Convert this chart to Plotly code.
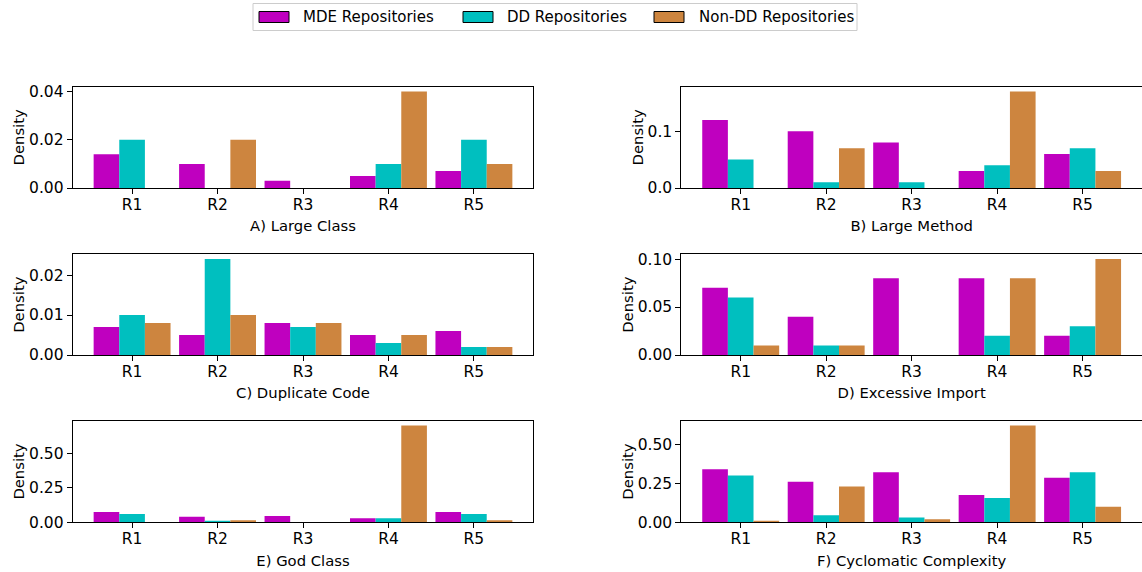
import plotly.graph_objects as go

# Density of each smell type per repository group (R1..R5)
regions = ["R1", "R2", "R3", "R4", "R5"]
series_names = ["MDE Repositories", "DD Repositories", "Non-DD Repositories"]
series_colors = ["#bf00bf", "#00bfbf", "#cd853f"]

large_class_mde = [0.014, 0.010, 0.003, 0.005, 0.007]
large_class_dd = [0.020, 0.0, 0.0, 0.010, 0.020]
large_class_nondd = [0.0, 0.020, 0.0, 0.040, 0.010]

large_method_mde = [0.12, 0.10, 0.08, 0.03, 0.06]
large_method_dd = [0.05, 0.01, 0.01, 0.04, 0.07]
large_method_nondd = [0.0, 0.07, 0.0, 0.17, 0.03]

duplicate_code_mde = [0.007, 0.005, 0.008, 0.005, 0.006]
duplicate_code_dd = [0.010, 0.024, 0.007, 0.003, 0.002]
duplicate_code_nondd = [0.008, 0.010, 0.008, 0.005, 0.002]

excessive_import_mde = [0.07, 0.04, 0.08, 0.08, 0.02]
excessive_import_dd = [0.06, 0.01, 0.0, 0.02, 0.03]
excessive_import_nondd = [0.01, 0.01, 0.0, 0.08, 0.10]

god_class_mde = [0.075, 0.040, 0.045, 0.030, 0.075]
god_class_dd = [0.060, 0.010, 0.0, 0.030, 0.060]
god_class_nondd = [0.0, 0.015, 0.0, 0.700, 0.015]

cyclomatic_mde = [0.34, 0.26, 0.32, 0.175, 0.285]
cyclomatic_dd = [0.30, 0.045, 0.03, 0.155, 0.32]
cyclomatic_nondd = [0.007, 0.23, 0.02, 0.62, 0.10]

panels = [
    ("A) Large Class", [large_class_mde, large_class_dd, large_class_nondd], [0, 0.02, 0.04], ".2f"),
    ("B) Large Method", [large_method_mde, large_method_dd, large_method_nondd], [0, 0.1], ".1f"),
    ("C) Duplicate Code", [duplicate_code_mde, duplicate_code_dd, duplicate_code_nondd], [0, 0.01, 0.02], ".2f"),
    ("D) Excessive Import", [excessive_import_mde, excessive_import_dd, excessive_import_nondd], [0, 0.05, 0.10], ".2f"),
    ("E) God Class", [god_class_mde, god_class_dd, god_class_nondd], [0, 0.25, 0.50], ".2f"),
    ("F) Cyclomatic Complexity", [cyclomatic_mde, cyclomatic_dd, cyclomatic_nondd], [0, 0.25, 0.50], ".2f"),
]

W, H = 1142, 572
FONT = "DejaVu Sans"
col_px = [(72.7, 533.3), (681.3, 1142.0)]
row_px = [(86.7, 188.0), (254.3, 355.0), (420.7, 522.3)]


def px_x(v):
    return v / W


def px_y(v):
    return 1 - v / H


fig = go.Figure()
layout = dict(
    width=W, height=H,
    margin=dict(l=0, r=0, t=0, b=0),
    paper_bgcolor="white", plot_bgcolor="white",
    font=dict(family=FONT, size=15, color="black"),
    barmode="group", bargap=0.1, bargroupgap=0.0,
    showlegend=False,
)

for i, (title, values, ticks, fmt) in enumerate(panels):
    r, c = divmod(i, 2)
    n = i + 1
    xa = "x" if n == 1 else f"x{n}"
    ya = "y" if n == 1 else f"y{n}"
    ymax = max(max(v) for v in values) * 1.05
    for k, v in enumerate(values):
        fig.add_trace(go.Bar(
            x=regions, y=v, name=series_names[k],
            marker=dict(color=series_colors[k], line=dict(width=0)),
            xaxis=xa, yaxis=ya, legendgroup=series_names[k],
        ))
    x0, x1 = col_px[c]
    y0, y1 = row_px[r]
    axis_common = dict(
        showline=True, linecolor="black", linewidth=1, mirror=True,
        ticks="outside", ticklen=5, tickwidth=1, tickcolor="black",
        showgrid=False, zeroline=False, automargin=False,
        tickfont=dict(family=FONT, size=15.5, color="black"),
    )
    layout["xaxis" if n == 1 else f"xaxis{n}"] = dict(
        axis_common,
        domain=[px_x(x0), px_x(x1)], anchor=ya,
        type="category", range=[-0.695, 4.695],
        ticklabelstandoff=-3,
        title=dict(text=title, font=dict(family=FONT, size=14.8), standoff=8),
    )
    layout["yaxis" if n == 1 else f"yaxis{n}"] = dict(
        axis_common,
        domain=[px_y(y1), px_y(y0)], anchor=xa,
        range=[0, ymax], tickvals=ticks, tickformat=fmt,
        title=dict(text="Density", font=dict(family=FONT, size=14.8), standoff=0),
    )

# Legend box across the top: framed row of colour patches with labels
shapes = [dict(
    type="rect", xref="paper", yref="paper",
    x0=px_x(253), x1=px_x(857), y0=px_y(30.5), y1=px_y(3.5),
    line=dict(color="#cccccc", width=1), fillcolor="white", layer="below",
)]
annotations = []
patch_left = [259, 463, 654]
text_left = [301, 505, 697]
for k, name in enumerate(series_names):
    shapes.append(dict(
        type="rect", xref="paper", yref="paper",
        x0=px_x(patch_left[k]), x1=px_x(patch_left[k] + 30),
        y0=px_y(22.5), y1=px_y(11.5),
        line=dict(color="black", width=1), fillcolor=series_colors[k],
    ))
    annotations.append(dict(
        text=name, xref="paper", yref="paper",
        x=px_x(text_left[k]), y=px_y(17), xanchor="left", yanchor="middle",
        showarrow=False, font=dict(family=FONT, size=15, color="black"),
    ))
layout["shapes"] = shapes
layout["annotations"] = annotations

fig.update_layout(**layout)
fig.write_html("out.html")
